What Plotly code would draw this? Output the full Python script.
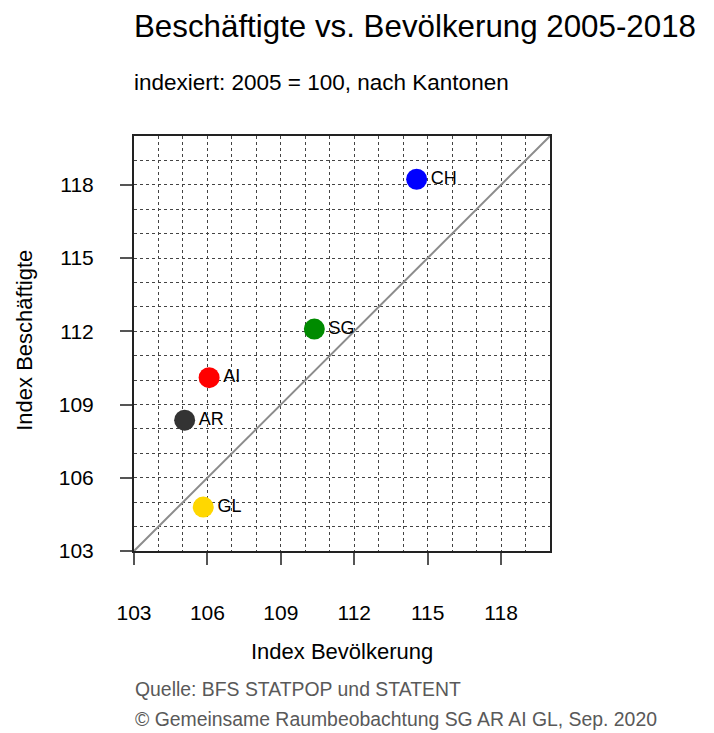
import plotly.graph_objects as go

# --- DONNÉES ---
kantone = ["CH", "SG", "AI", "AR", "GL"]
index_bevoelkerung = [114.55, 110.37, 106.07, 105.07, 105.83]
index_beschaeftigte = [118.23, 112.09, 110.10, 108.36, 104.80]
farben = ["#0000FF", "#008B00", "#FF0000", "#333333", "#FFD700"]
diagonale = [103, 120]
ticks = [103, 106, 109, 112, 115, 118]

FONT = "Arial, Liberation Sans, sans-serif"

fig = go.Figure()

# Ligne 1:1
fig.add_trace(go.Scatter(
    x=diagonale, y=diagonale, mode="lines",
    line=dict(color="#8c8c8c", width=2),
    hoverinfo="skip", showlegend=False,
))

# Points par canton
fig.add_trace(go.Scatter(
    x=index_bevoelkerung, y=index_beschaeftigte,
    mode="markers+text",
    marker=dict(size=21, color=farben, line=dict(width=0)),
    text=kantone, textposition="middle right",
    textfont=dict(family=FONT, size=18, color="black"),
    showlegend=False,
))

axis_style = dict(
    range=[103, 120],
    tickvals=ticks,
    ticks="outside", ticklen=12, tickwidth=1.5, tickcolor="#555555",
    tickfont=dict(family=FONT, size=21, color="black"),
    showline=True, mirror=True, linecolor="#222222", linewidth=2,
    showgrid=True, gridcolor="#444444", gridwidth=1, griddash="dot",
    minor=dict(dtick=1, tick0=103, showgrid=True, gridcolor="#444444",
               gridwidth=1, griddash="dot", ticks=""),
    zeroline=False,
    fixedrange=True,
)

fig.update_xaxes(**axis_style, ticklabelstandoff=30)
fig.update_yaxes(**axis_style, ticklabelstandoff=22)

# --- TEXTES ---
annots = [
    dict(text="Beschäftigte vs. Bevölkerung 2005-2018", x=-0.006, y=1.264,
         xanchor="left", yanchor="middle", font=dict(size=31.3, color="black")),
    dict(text="indexiert: 2005 = 100, nach Kantonen", x=-0.004, y=1.13,
         xanchor="left", yanchor="middle", font=dict(size=22.5, color="black")),
    dict(text="Index Bevölkerung", x=0.5, y=-0.243,
         xanchor="center", yanchor="middle", font=dict(size=22, color="black")),
    dict(text="Index Beschäftigte", x=-0.264, y=0.507, textangle=-90,
         xanchor="center", yanchor="middle", font=dict(size=22, color="black")),
    dict(text="Quelle: BFS STATPOP und STATENT", x=-0.003, y=-0.333,
         xanchor="left", yanchor="middle", font=dict(size=19.4, color="#595959")),
    dict(text="© Gemeinsame Raumbeobachtung SG AR AI GL, Sep. 2020", x=-0.003, y=-0.405,
         xanchor="left", yanchor="middle", font=dict(size=19.4, color="#595959")),
]
for a in annots:
    a["font"]["family"] = FONT
    fig.add_annotation(xref="paper", yref="paper", showarrow=False, **a)

# La page HTML ajoute 8 px de marge : on décale tout de 8 px
fig.update_layout(
    width=706, height=725,
    margin=dict(l=126, r=164, t=128, b=182),
    plot_bgcolor="white", paper_bgcolor="white",
    font=dict(family=FONT),
)

fig.write_html("out.html")
